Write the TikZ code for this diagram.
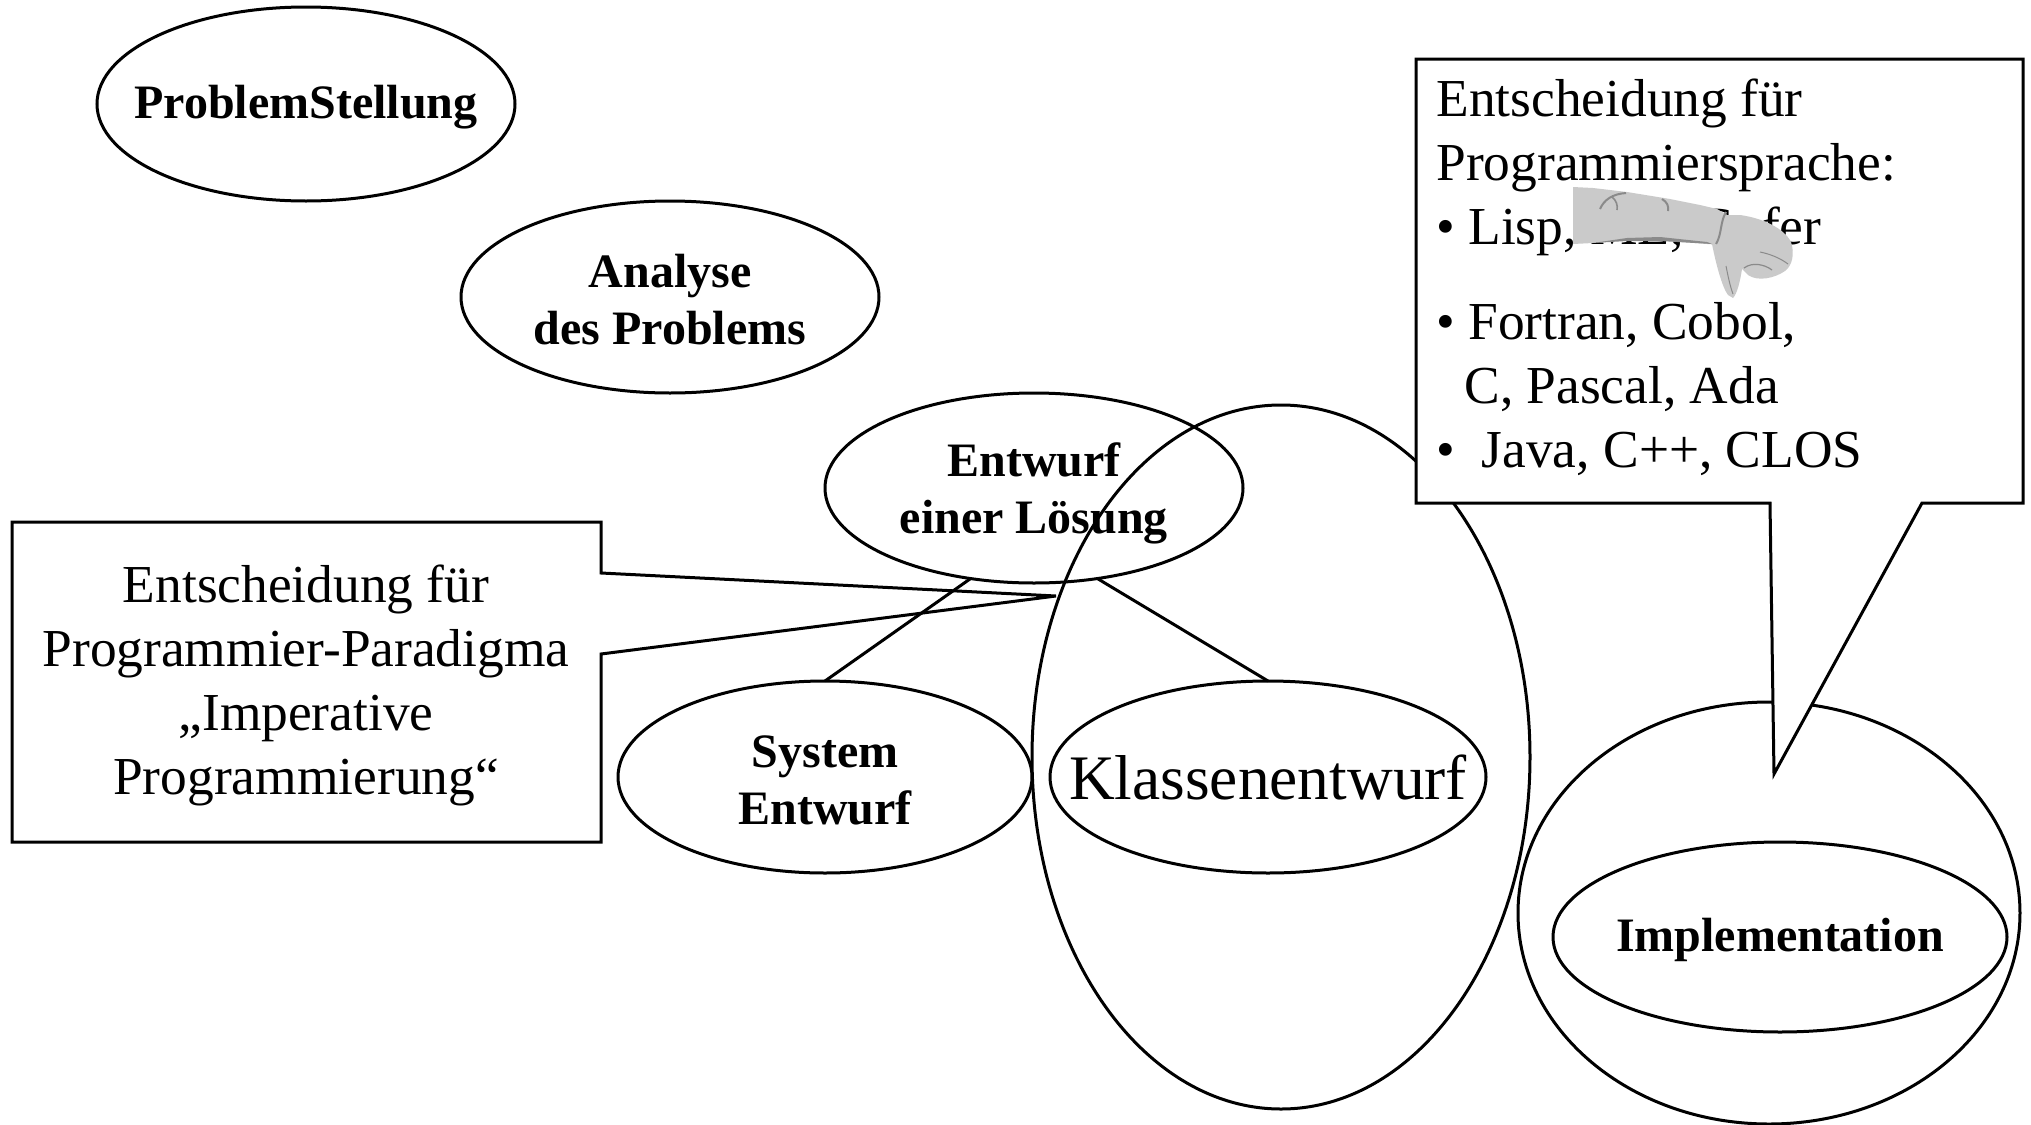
\documentclass[tikz,border=0pt]{standalone}
\usepackage{fontspec}
\setmainfont{Liberation Serif}
\usetikzlibrary{shapes.geometric}
\definecolor{handgrey}{HTML}{CACACA}
\definecolor{handshade}{HTML}{8A8A8A}
\begin{document}
\begin{tikzpicture}[x=0.5pt,y=-0.5pt,
  outline/.style={line width=1.5pt},
  phase/.style={ellipse, draw, outline, inner sep=0pt, outer sep=0pt},
  phasetext/.style={inner sep=0pt, align=center, yshift=-1.5pt,
    font=\fontsize{24}{28.5}\selectfont\bfseries},
  boxtext/.style={inner sep=0pt, font=\fontsize{26.7}{32}\selectfont},
]
\useasboundingbox (0,0) rectangle (2031,1125);

% phases of the development process
\node[phase, minimum width=209pt, minimum height=97pt,
  label={[phasetext]center:ProblemStellung}] (problem) at (306,104) {};
\node[phase, minimum width=209pt, minimum height=96pt,
  label={[phasetext]center:{Analyse\\des Problems}}] (analyse) at (670,297) {};
\node[phase, minimum width=209pt, minimum height=95pt,
  label={[phasetext, yshift=-1pt]center:{Entwurf\\einer Lösung}}] (entwurf) at (1034,488) {};
\node[phase, minimum width=207pt, minimum height=96pt,
  label={[phasetext]center:{System\\Entwurf}}] (system) at (825,777) {};
\node[phase, minimum width=218pt, minimum height=96pt,
  label={[inner sep=0pt, font=\fontsize{31.7}{36}\selectfont]center:Klassenentwurf}] (klassen) at (1268,777) {};

% region of the object-oriented design
\node[phase, minimum width=249pt, minimum height=352pt] (klassenbereich) at (1281,757) {};

% implementation region
\node[phase, minimum width=251pt, minimum height=211pt] (implbereich) at (1769,913) {};
\node[phase, minimum width=227pt, minimum height=95pt,
  label={[phasetext]center:Implementation}] (impl) at (1780,937) {};

% refinement of the design
\draw[outline] (entwurf.235) -- (system.north);
\draw[outline] (entwurf.305) -- (klassen.north);

% callout: choice of paradigm
\coordinate (paradigmaspitze) at (1056,596);
\draw[outline, line join=miter] (12,522) -- (601,522) -- (601,573) -- (paradigmaspitze)
  -- (601,654) -- (601,842) -- (12,842) -- cycle;
\node[boxtext, align=center] (paradigma) at (306,685)
  {Entscheidung für\\Programmier-Paradigma\\„Imperative\\Programmierung“};

% callout: choice of language
\coordinate (sprachspitze) at (1774,774);
\filldraw[outline, fill=white, line join=miter] (1416,59) -- (2023,59) -- (2023,503)
  -- (1922,503) -- (sprachspitze) -- (1770,503) -- (1416,503) -- cycle;
\node[boxtext, align=left, anchor=north west] (sprachen) at (1436,78)
  {Entscheidung für\\
   Programmiersprache:\\
   •\ Lisp, ML, Gofer\\[15.5pt]
   •\ Fortran, Cobol,\\
   \hspace*{14pt}C, Pascal, Ada\\
   •\ \ Java, C++, CLOS};

% pointing hand clip art over the first language line
\begin{scope}[shift={(0,2)}]
\fill[handgrey] (1573,185) -- (1593,186) -- (1627,190) -- (1670,197) -- (1700,203)
  -- (1717,207) -- (1727,213) -- (1740,213)
  .. controls (1762,216) and (1784,226) .. (1791,240)
  .. controls (1795,252) and (1792,264) .. (1785,269)
  .. controls (1775,276) and (1758,280) .. (1748,273)
  -- (1742,267)
  .. controls (1740,280) and (1737,292) .. (1733,296)
  -- (1728,293)
  .. controls (1722,285) and (1716,262) .. (1712,242)
  -- (1707,242) -- (1660,238) -- (1627,238) -- (1593,241) -- (1573,242) -- cycle;
% folds and shading of the sleeve and hand
\fill[handshade] (1593,241) -- (1627,236) -- (1660,235) -- (1707,240) -- (1712,242)
  -- (1660,239) -- (1627,239) -- cycle;
\draw[handshade, line width=1pt] (1600,207) .. controls (1604,198) and (1612,192) .. (1626,191);
\draw[handshade, line width=0.8pt] (1612,195) .. controls (1616,198) and (1618,203) .. (1617,208);
\draw[handshade, line width=1pt] (1662,197) .. controls (1667,200) and (1669,204) .. (1668,209);
\draw[handshade, line width=1pt] (1726,210) .. controls (1720,220) and (1722,232) .. (1716,242);
\draw[handshade, line width=0.6pt] (1744,266) .. controls (1752,260) and (1764,262) .. (1772,268);
\draw[handshade, line width=0.5pt] (1760,250) .. controls (1770,252) and (1780,256) .. (1788,262);
\draw[handshade, line width=0.5pt] (1726,264) .. controls (1728,274) and (1730,284) .. (1733,292);
\end{scope}
\end{tikzpicture}
\end{document}
